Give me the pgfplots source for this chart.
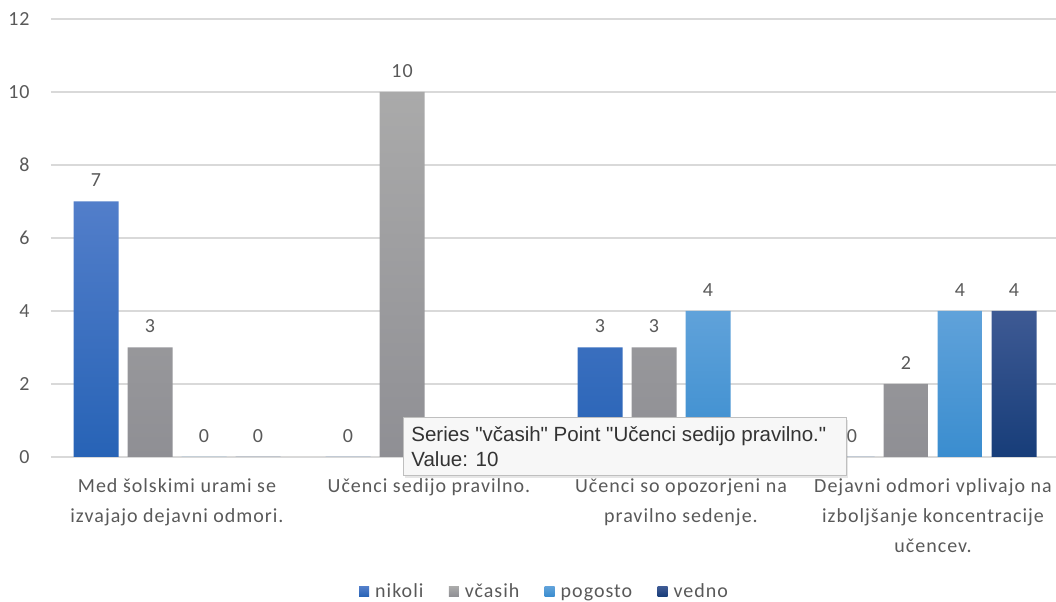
\documentclass[border=0pt]{standalone}
\usepackage{fontspec}
\setmainfont{Carlito}[LetterSpace=5]
\newfontfamily\tipfont{Liberation Sans}
\usepackage{pgfplots}
\pgfplotsset{compat=1.18}
\usetikzlibrary{shadows}

\definecolor{nikoliT}{HTML}{527ECA}
\definecolor{nikoliB}{HTML}{2763B6}
\definecolor{vcasihT}{HTML}{AAAAAA}
\definecolor{vcasihB}{HTML}{8F8F94}
\definecolor{pogostoT}{HTML}{60A2DA}
\definecolor{pogostoB}{HTML}{3A8DCF}
\definecolor{vednoT}{HTML}{3E5A94}
\definecolor{vednoB}{HTML}{173D79}
\definecolor{txt}{HTML}{595959}
\definecolor{gridc}{HTML}{D9D9D9}

\begin{document}
\begin{tikzpicture}
\useasboundingbox (0,0) rectangle (792pt,451.5pt);
\begin{axis}[
    at={(38.25pt,108.75pt)}, anchor=south west,
    scale only axis,
    width=756pt, height=328.5pt,
    ybar=6.75pt, bar width=33.75pt,
    xmin=-0.5, xmax=3.5,
    ymin=0, ymax=12,
    ytick={0,2,...,12},
    xtick={0,1,2,3},
    xticklabels={{Med šolskimi urami se\\izvajajo dejavni odmori.},
                 {Učenci sedijo pravilno.},
                 {Učenci so opozorjeni na\\pravilno sedenje.},
                 {Dejavni odmori vplivajo na\\izboljšanje koncentracije\\učencev.}},
    x tick label style={align=center, font=\fontsize{15}{22.5}\selectfont, text=txt, yshift=-8.5pt},
    y tick label style={font=\fontsize{15}{18}\selectfont, text=txt, xshift=-12.5pt},
    /pgf/number format/assume math mode=true,
    ymajorgrids, grid style={gridc, line width=0.8pt},
    axis line style={draw=none},
    major tick style={draw=none},
    point meta=explicit symbolic,
    nodes near coords={\pgfplotspointmeta},
    every node near coord/.append style={font=\fontsize{15}{18}\selectfont, text=txt, yshift=7.5pt},
    legend style={at={(0.49,-0.308)}, anchor=center, draw=none, fill=none,
        legend columns=4, font=\fontsize{15}{17}\selectfont, text=txt,
        /tikz/every odd column/.append style={column sep=2.5pt},
        /tikz/every even column/.append style={column sep=17pt}},
    legend image code/.code={\path[#1, draw=none] (0pt,-3.5pt) rectangle (7.5pt,4pt);},
]
\addplot[top color=nikoliT, bottom color=nikoliB, draw=none]
    coordinates {(0,7) [7] (1,0) [0] (2,3) [3] (3,0) [0]};
\addplot[top color=vcasihT, bottom color=vcasihB, draw=none]
    coordinates {(0,3) [3] (1,10) [10] (2,3) [3] (3,2) [2]};
\addplot[top color=pogostoT, bottom color=pogostoB, draw=none]
    coordinates {(0,0) [0] (1,0) [{}] (2,4) [4] (3,4) [4]};
\addplot[top color=vednoT, bottom color=vednoB, draw=none]
    coordinates {(0,0) [0] (1,0) [{}] (2,0) [{}] (3,4) [4]};
\legend{nikoli, včasih, pogosto, vedno}
\end{axis}
\node[draw=gray!50, fill=gray!6, drop shadow={opacity=0.2, shadow xshift=1pt, shadow yshift=-1.5pt},
      minimum width=332.25pt, minimum height=43.5pt, anchor=south west, inner sep=0pt]
      at (302.25pt,94.5pt) {};
\node[anchor=base west, font=\tipfont\fontsize{15.4}{18}\selectfont, text=black!80]
      at (305pt,120pt) {Series "včasih" Point "Učenci sedijo pravilno."};
\node[anchor=base west, font=\tipfont\fontsize{15.4}{18}\selectfont, text=black!80]
      at (305pt,101.25pt) {Value: 10};
\end{tikzpicture}
\end{document}
